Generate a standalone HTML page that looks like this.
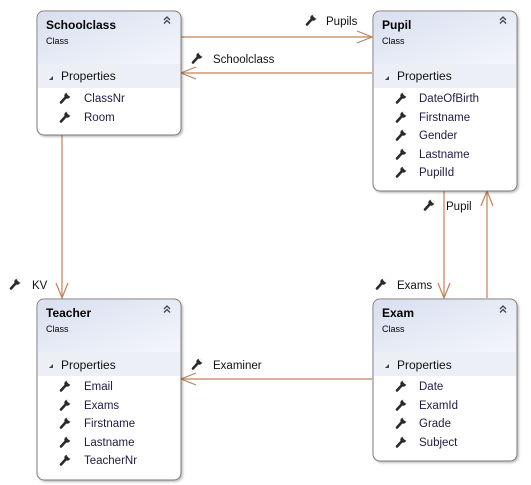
<!DOCTYPE html>
<html><head><meta charset="utf-8"><style>
html,body{margin:0;padding:0;background:#fff}
svg{display:block;font-family:"Segoe UI","Liberation Sans",sans-serif}
.t{font-size:12px;font-weight:bold;fill:#000}
.c{font-size:9px;fill:#000}
.p{font-size:12px;fill:#111}
.i{font-size:11.5px;fill:#231a40}
.l{font-size:11.5px;fill:#111}
.ln{stroke:#c0825a;stroke-width:1.2;fill:none}
</style></head><body>
<svg width="531" height="485" viewBox="0 0 531 485" xmlns="http://www.w3.org/2000/svg">
<defs>
<linearGradient id="hg" x1="0" y1="0" x2="1" y2="1">
<stop offset="0" stop-color="#d8dff0"/><stop offset="1" stop-color="#f4f6fb"/>
</linearGradient>
<symbol id="w" viewBox="0 0 12 12"><line x1="2" y1="10.5" x2="7" y2="5" stroke="#2a2a2a" stroke-width="2.6" stroke-linecap="round"/><circle cx="8.3" cy="3.8" r="3" fill="#2a2a2a"/><path d="M9 0.3 L12 3.2 L10.4 4.6 L7.6 1.6Z" fill="#fff"/></symbol>
<symbol id="chev" viewBox="0 0 10 10"><path d="M2 5 L5 2 L8 5 M2 8.5 L5 5.5 L8 8.5" stroke="#444" stroke-width="1.3" fill="none"/></symbol>
<filter id="sh" x="-10%" y="-10%" width="130%" height="130%"><feDropShadow dx="1.5" dy="1.5" stdDeviation="1" flood-color="#000" flood-opacity="0.25"/></filter>
</defs>

<line class="ln" x1="181" y1="37" x2="372" y2="37"/>
<path class="ln" d="M357 31 L372 37 L357 43"/>
<line class="ln" x1="181" y1="73" x2="372" y2="73"/>
<path class="ln" d="M196 67 L181 73 L196 79"/>
<line class="ln" x1="62" y1="135" x2="62" y2="298"/>
<path class="ln" d="M56 283 L62 298 L68 283"/>
<line class="ln" x1="444" y1="191" x2="444" y2="298"/>
<path class="ln" d="M438 283 L444 298 L450 283"/>
<line class="ln" x1="487" y1="191" x2="487" y2="298"/>
<path class="ln" d="M481 206 L487 191 L493 206"/>
<line class="ln" x1="181" y1="379" x2="372" y2="379"/>
<path class="ln" d="M196 373 L181 379 L196 385"/>

<use href="#w" x="305" y="14" width="12" height="12"/><text class="l" x="326" y="25">Pupils</text>
<use href="#w" x="191" y="52" width="12" height="12"/><text class="l" x="213" y="63">Schoolclass</text>
<use href="#w" x="423" y="199" width="12" height="12"/><text class="l" x="446" y="210">Pupil</text>
<use href="#w" x="375" y="278" width="12" height="12"/><text class="l" x="397" y="289">Exams</text>
<use href="#w" x="9" y="278" width="12" height="12"/><text class="l" x="32" y="289">KV</text>
<use href="#w" x="191" y="358" width="12" height="12"/><text class="l" x="213" y="369">Examiner</text>

<g filter="url(#sh)"><rect x="37" y="11" width="144" height="124" rx="7" fill="#fff" stroke="#7a7a7a"/></g>
<path d="M38 64 V18 a6 6 0 0 1 6 -6 H174 a6 6 0 0 1 6 6 V64Z" fill="url(#hg)"/>
<rect x="38" y="64" width="142" height="24" fill="#eceff6"/>
<text class="t" x="46" y="29">Schoolclass</text><text class="c" x="46" y="44">Class</text>
<use href="#chev" x="162" y="15" width="10" height="10"/>
<path d="M49 80 L53 76 L53 80Z" fill="#444"/><text class="p" x="61" y="80">Properties</text>
<use href="#w" x="59" y="92" width="12" height="12"/><text class="i" x="84" y="102">ClassNr</text>
<use href="#w" x="59" y="111" width="12" height="12"/><text class="i" x="84" y="121">Room</text>

<g filter="url(#sh)"><rect x="373" y="11" width="144" height="180" rx="7" fill="#fff" stroke="#7a7a7a"/></g>
<path d="M374 64 V18 a6 6 0 0 1 6 -6 H510 a6 6 0 0 1 6 6 V64Z" fill="url(#hg)"/>
<rect x="374" y="64" width="142" height="24" fill="#eceff6"/>
<text class="t" x="382" y="29">Pupil</text><text class="c" x="382" y="44">Class</text>
<use href="#chev" x="498" y="15" width="10" height="10"/>
<path d="M385 80 L389 76 L389 80Z" fill="#444"/><text class="p" x="397" y="80">Properties</text>
<use href="#w" x="395" y="92" width="12" height="12"/><text class="i" x="419" y="102">DateOfBirth</text>
<use href="#w" x="395" y="111" width="12" height="12"/><text class="i" x="419" y="121">Firstname</text>
<use href="#w" x="395" y="129" width="12" height="12"/><text class="i" x="419" y="139">Gender</text>
<use href="#w" x="395" y="148" width="12" height="12"/><text class="i" x="419" y="158">Lastname</text>
<use href="#w" x="395" y="166" width="12" height="12"/><text class="i" x="419" y="176">PupilId</text>

<g filter="url(#sh)"><rect x="37" y="299" width="144" height="181" rx="7" fill="#fff" stroke="#7a7a7a"/></g>
<path d="M38 352 V306 a6 6 0 0 1 6 -6 H174 a6 6 0 0 1 6 6 V352Z" fill="url(#hg)"/>
<rect x="38" y="352" width="142" height="24" fill="#eceff6"/>
<text class="t" x="46" y="317">Teacher</text><text class="c" x="46" y="332">Class</text>
<use href="#chev" x="162" y="304" width="10" height="10"/>
<path d="M49 368 L53 364 L53 368Z" fill="#444"/><text class="p" x="61" y="369">Properties</text>
<use href="#w" x="59" y="380" width="12" height="12"/><text class="i" x="84" y="390">Email</text>
<use href="#w" x="59" y="399" width="12" height="12"/><text class="i" x="84" y="409">Exams</text>
<use href="#w" x="59" y="417" width="12" height="12"/><text class="i" x="84" y="427">Firstname</text>
<use href="#w" x="59" y="436" width="12" height="12"/><text class="i" x="84" y="446">Lastname</text>
<use href="#w" x="59" y="454" width="12" height="12"/><text class="i" x="84" y="464">TeacherNr</text>

<g filter="url(#sh)"><rect x="373" y="299" width="144" height="162" rx="7" fill="#fff" stroke="#7a7a7a"/></g>
<path d="M374 352 V306 a6 6 0 0 1 6 -6 H510 a6 6 0 0 1 6 6 V352Z" fill="url(#hg)"/>
<rect x="374" y="352" width="142" height="24" fill="#eceff6"/>
<text class="t" x="382" y="317">Exam</text><text class="c" x="382" y="332">Class</text>
<use href="#chev" x="498" y="304" width="10" height="10"/>
<path d="M385 368 L389 364 L389 368Z" fill="#444"/><text class="p" x="397" y="369">Properties</text>
<use href="#w" x="395" y="380" width="12" height="12"/><text class="i" x="419" y="390">Date</text>
<use href="#w" x="395" y="399" width="12" height="12"/><text class="i" x="419" y="409">ExamId</text>
<use href="#w" x="395" y="417" width="12" height="12"/><text class="i" x="419" y="427">Grade</text>
<use href="#w" x="395" y="436" width="12" height="12"/><text class="i" x="419" y="446">Subject</text>
</svg>
</body></html>
